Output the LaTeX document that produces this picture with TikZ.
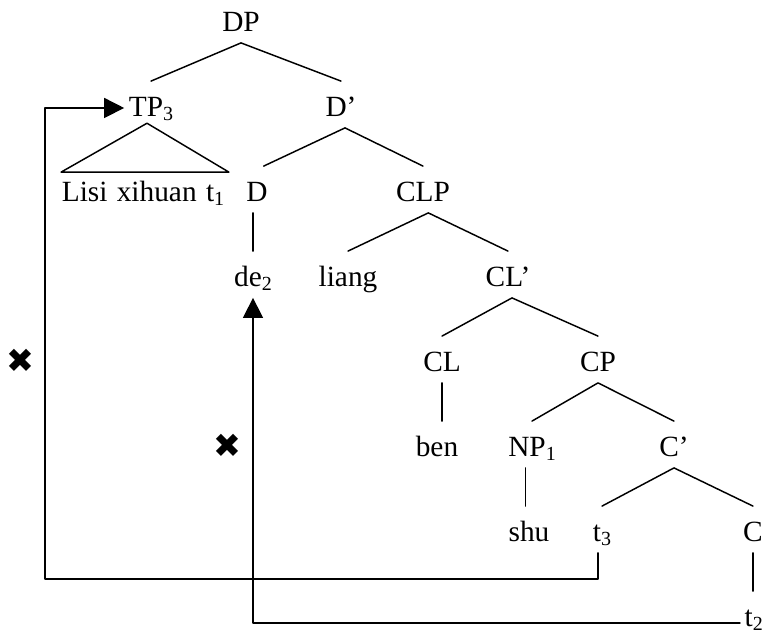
\documentclass[tikz,border=0pt]{standalone}
\usepackage{fontspec}
\setmainfont{Liberation Serif}
\newfontfamily\dejavu{DejaVu Sans}
\usetikzlibrary{arrows.meta}
\newcommand{\lowidx}[1]{\raisebox{-3pt}{\fontsize{15}{15}\selectfont #1}}

\begin{document}
\begin{tikzpicture}[line cap=round,line join=round,line width=1.1pt,x=0.75pt,y=-0.75pt,
	lbl/.style={anchor=base,inner ysep=0pt,inner xsep=3pt,text height=26pt,text depth=8pt,font=\fontsize{22}{24}\selectfont},
	mv/.style={-{Triangle[length=15pt,width=15pt]}},
	ban/.style={inner sep=0pt,font=\dejavu\fontsize{25}{25}\selectfont}]
	\useasboundingbox (0,0) rectangle (764,632);
	\node[lbl] (DP) at (241,31.5) {DP};
	\node[lbl] (TP) at (151,116.5) {TP\lowidx{3}};
	\node[lbl] (Dbar) at (341,116.5) {D’};
	\node[lbl] (Lisi) at (143,201.5) {Lisi\hspace{7pt}xihuan\hspace{7pt}t\lowidx{1}};
	\node[lbl] (D) at (257,201.5) {D};
	\node[lbl] (CLP) at (423,201.5) {CLP};
	\node[lbl] (de) at (253,286.5) {de\lowidx{2}};
	\node[lbl] (liang) at (348,286.5) {liang};
	\node[lbl] (CLbar) at (508,286.5) {CL’};
	\node[lbl] (CL) at (442,371.5) {CL};
	\node[lbl] (CP) at (598,371.5) {CP};
	\node[lbl] (ben) at (437,456.5) {ben};
	\node[lbl] (NP) at (532,456.5) {NP\lowidx{1}};
	\node[lbl] (Cbar) at (674,456.5) {C’};
	\node[lbl] (shu) at (529,541.5) {shu};
	\node[lbl] (tthree) at (602,541.5) {t\lowidx{3}};
	\node[lbl] (C) at (753,541.5) {C};
	\node[lbl,anchor=base west] (ttwo) at (740,626.5) {t\lowidx{2}};
	\node[ban] (badA) at (20,361) {✖};
	\node[ban] (badB) at (227,446) {✖};
	\coordinate (bendA) at (45,579);
	% tree
	\draw (TP.north) -- (DP.south) -- (Dbar.north);
	\draw ([xshift=-3pt,yshift=3.5pt]TP.south) -- ([xshift=3pt,yshift=-4.5pt]Lisi.north west)
		-- ([yshift=-4.5pt]Lisi.north east) -- cycle;
	\draw ([xshift=5pt]D.north) -- ([xshift=3pt]Dbar.south) -- (CLP.north);
	\draw (de.north) -- (de.north |- D.south);
	\draw (liang.north) -- ([xshift=4pt]CLP.south) -- (CLbar.north);
	\draw (CL.north) -- ([xshift=3pt]CLbar.south) -- (CP.north);
	\draw (CL.south) -- (CL.south |- ben.north);
	\draw (NP.north) -- (CP.south) -- (Cbar.north);
	\draw ([xshift=-5pt]NP.south) -- ([xshift=-5pt]NP.south |- shu.north);
	\draw (tthree.north) -- (Cbar.south) -- (C.north);
	\draw (C.south) -- (C.south |- ttwo.north);
	% movement
	\draw[mv] ([xshift=-3pt]tthree.south) |- (bendA) |- ([yshift=-2.6pt]TP.west);
	\draw[mv] ([yshift=2.6pt]ttwo.base west) -| (de.south);
\end{tikzpicture}
\end{document}
